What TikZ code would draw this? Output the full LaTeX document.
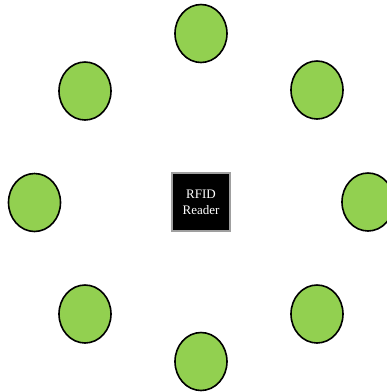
\documentclass[tikz,border=0pt]{standalone}
\usepackage{fontspec}
\setmainfont{Liberation Serif}
\usetikzlibrary{shapes.geometric}
\definecolor{tagGreen}{HTML}{92D050}

\begin{document}
\begin{tikzpicture}[x=1pt, y=-1pt,
    tag/.style={ellipse,draw=black,fill=tagGreen,line width=1.6pt,minimum width=52pt,minimum height=58pt,inner sep=0pt},
    reader/.style={rectangle,draw=gray!75,fill=black,line width=2pt,minimum size=58pt,inner sep=0pt,text=white,align=center,font=\fontsize{13}{16}\selectfont}]
    \useasboundingbox (0,0) rectangle (387,392);

    \node[reader] (rd) at (201,202) {RFID\\Reader};

    \node[tag] (t1) at (201,33.5) {};
    \node[tag] (t2) at (317,90) {};
    \node[tag] (t3) at (368,202) {};
    \node[tag] (t4) at (317,314) {};
    \node[tag] (t5) at (201,361.5) {};
    \node[tag] (t6) at (85,314) {};
    \node[tag] (t7) at (34.5,202.5) {};
    \node[tag] (t8) at (85,91) {};
\end{tikzpicture}
\end{document}
